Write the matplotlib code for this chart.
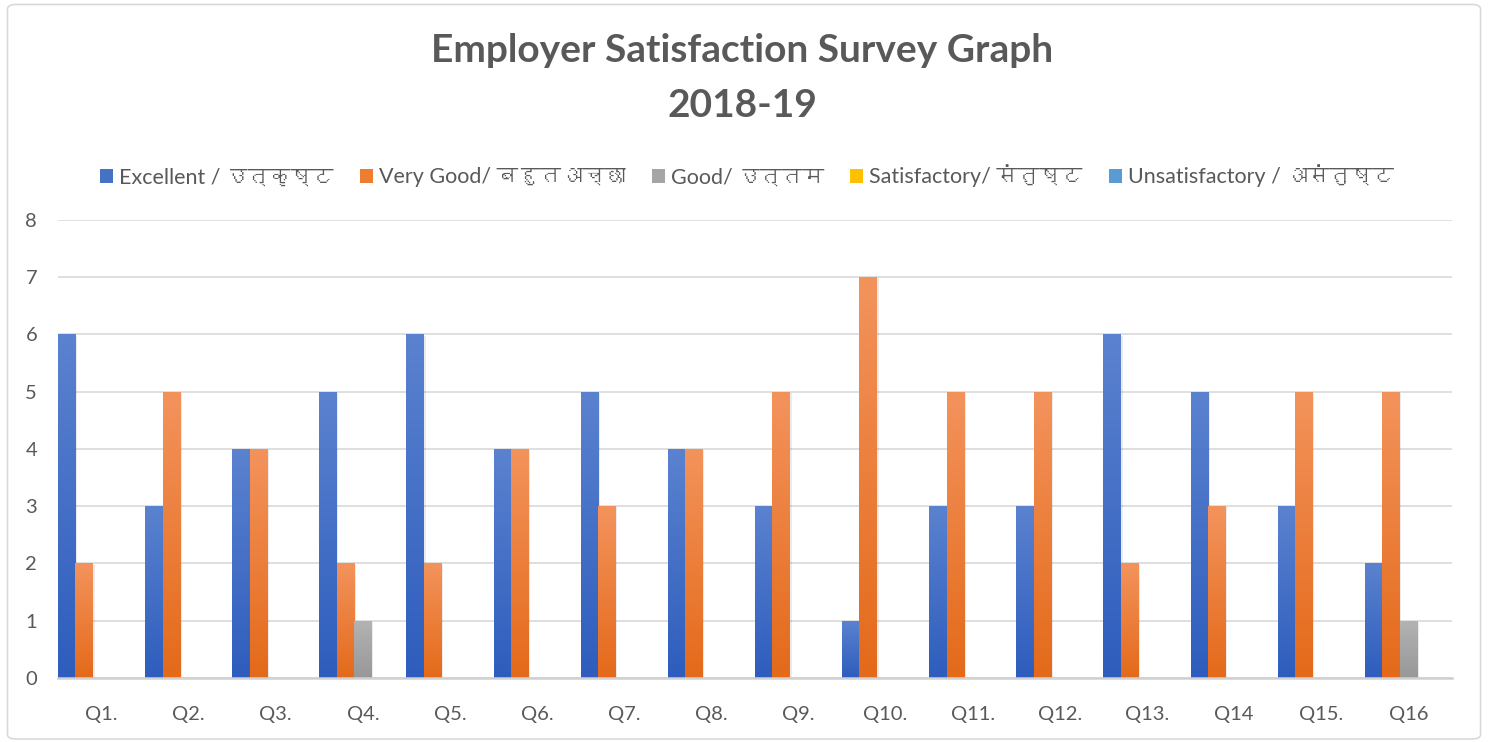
import matplotlib
matplotlib.use("Agg")
import matplotlib.pyplot as plt
import numpy as np
from matplotlib import font_manager
from matplotlib.ft2font import FT2Font
from matplotlib.patches import FancyBboxPatch

questions = ["Q1.", "Q2.", "Q3.", "Q4.", "Q5.", "Q6.", "Q7.", "Q8.",
             "Q9.", "Q10.", "Q11.", "Q12.", "Q13.", "Q14", "Q15.", "Q16"]
excellent = [6, 3, 4, 5, 6, 4, 5, 4, 3, 1, 3, 3, 6, 5, 3, 2]
very_good = [2, 5, 4, 2, 2, 4, 3, 4, 5, 7, 5, 5, 2, 3, 5, 5]
good = [0, 0, 0, 1, 0, 0, 0, 0, 0, 0, 0, 0, 0, 0, 0, 1]
satisfactory = [0] * 16
unsatisfactory = [0] * 16
series_names = ["Excellent / उत्कृष्ट", "Very Good/ बहुतअच्छा", "Good/ उत्तम",
                "Satisfactory/ संतुष्ट", "Unsatisfactory / असंतुष्ट"]

# (top colour, bottom colour, legend colour)
colours = [("#5b82cf", "#2e5dbd", "#4472c4"),
           ("#f3935c", "#e46a1a", "#ed7d31"),
           ("#b3b3b3", "#989898", "#a5a5a5"),
           ("#ffcd3c", "#f0b400", "#ffc000"),
           ("#6fa8dc", "#4a8ac8", "#5b9bd5")]


# find any installed font that can draw Devanagari
def find_devanagari():
    for f in font_manager.fontManager.ttflist:
        try:
            if 0x0909 in FT2Font(f.fname).get_charmap():
                return f.name
        except Exception:
            pass
    return None


deva = find_devanagari()
fams = ["Lato"] + ([deva] if deva else []) + ["DejaVu Sans"]
plt.rcParams['font.family'] = fams

grey = "#595959"
fig = plt.figure(figsize=(14.94, 7.42), dpi=100)
fig.patches.append(FancyBboxPatch((0.005, 0.004), 0.986, 0.99,
                                  boxstyle="round,pad=0,rounding_size=0.006",
                                  transform=fig.transFigure, fc="white",
                                  ec="#d9d9d9", lw=1.2, zorder=-10))
ax = fig.add_axes([0.0388, 0.0863, 0.9330, 0.6172])

x = np.arange(len(questions))
w = 1 / 5
data = [excellent, very_good, good, satisfactory, unsatisfactory]
handles = []
for k, vals in enumerate(data):
    top, bot, leg = colours[k]
    bars = ax.bar(x - 0.5 + w * (k + 0.5), vals, width=w, color=leg,
                  edgecolor="none", zorder=2, label=series_names[k])
    handles.append(bars)
    grad = np.linspace(0, 1, 100).reshape(-1, 1)
    cmap = matplotlib.colors.LinearSegmentedColormap.from_list("g", [bot, top])
    for b in bars:
        h = b.get_height()
        if h <= 0:
            continue
        # soft shadow to the right
        ax.bar(b.get_x() + b.get_width() / 2 + 0.02, h - 0.02, width=w,
               color="#000000", alpha=0.08, zorder=1.5, edgecolor="none")
        im = ax.imshow(grad, cmap=cmap, aspect="auto", origin="lower",
                       extent=[b.get_x(), b.get_x() + b.get_width(), 0, h],
                       zorder=2.5)
        im.set_clip_path(b)

ax.set_xlim(-0.5, len(questions) - 0.5)
ax.set_ylim(0, 8)
ax.set_yticks(range(0, 9))
ax.set_xticks(x)
ax.set_xticklabels(questions)
ax.tick_params(axis="both", length=0, colors=grey, labelsize=14.5)
ax.tick_params(axis="x", pad=20)
ax.tick_params(axis="y", pad=15)
ax.grid(axis="y", color="#d9d9d9", lw=1.2, zorder=0)
ax.set_axisbelow(True)
for s in ["top", "right", "left"]:
    ax.spines[s].set_visible(False)
ax.spines["bottom"].set_color("#d0d0d0")
ax.spines["bottom"].set_linewidth(1.8)

fig.text(0.497, 0.932, "Employer Satisfaction Survey Graph", ha="center",
         va="center", fontsize=28, fontweight="bold", color=grey)
fig.text(0.497, 0.858, "2018-19", ha="center", va="center",
         fontsize=28, fontweight="bold", color=grey)

fig.legend(handles=handles, loc="center", bbox_to_anchor=(0.5, 0.763),
           ncol=5, frameon=False, fontsize=15.5, labelcolor=grey,
           handlelength=0.6, handleheight=0.6, handletextpad=0.3,
           columnspacing=1.2)

fig.savefig("out.png", dpi=100)
